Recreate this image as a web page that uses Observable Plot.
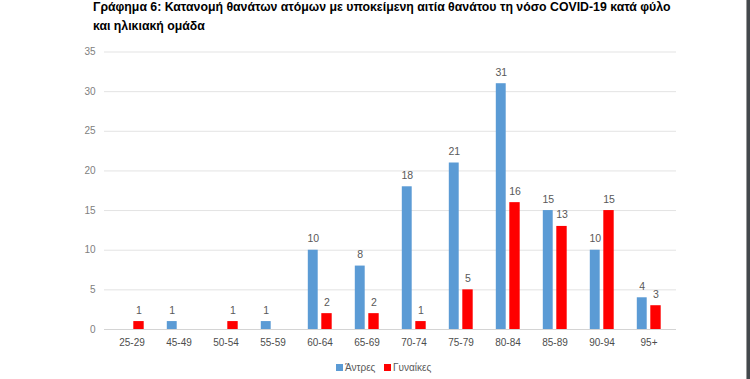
<!DOCTYPE html>
<html>
<head>
<meta charset="utf-8">
<script src="https://cdn.jsdelivr.net/npm/d3@7"></script>
<script src="https://cdn.jsdelivr.net/npm/@observablehq/plot@0.6"></script>
<style>
  html, body { margin: 0; padding: 0; background: #fff; }
  #wrap { position: relative; width: 750px; height: 379px; overflow: hidden; font-family: "Liberation Sans", Arial, sans-serif; }
  #title { height: 40px; position: relative; }
  #title div { position: absolute; left: 93px; top: -1.8px; width: 640px; font-weight: bold; font-size: 12.3px; line-height: 19px; color: #000; white-space: nowrap; }
  #chart svg { display: block; }
  #legend { position: relative; height: 24px; }
  .lg { position: absolute; top: 0; height: 24px; display: flex; align-items: center; font-size: 10px; color: #595959; }
  .sw { width: 7px; height: 7px; margin-right: 2px; }
  #edge { position: absolute; right: 0; top: 0; width: 4px; height: 379px; background: #43484c; border-left: 1px solid #9a9a9a; box-sizing: border-box; }
</style>
</head>
<body>
<div id="wrap">
  <div id="title"><div>Γράφημα 6: Κατανομή θανάτων ατόμων με υποκείμενη αιτία θανάτου τη νόσο COVID-19 κατά φύλο<br>και ηλικιακή ομάδα</div></div>
  <div id="chart"></div>
  <div id="legend"></div>
  <div id="edge"></div>
</div>
<script>
const ages = ["25-29", "45-49", "50-54", "55-59", "60-64", "65-69", "70-74", "75-79", "80-84", "85-89", "90-94", "95+"];
const men = [0, 1, 0, 1, 10, 8, 18, 21, 31, 15, 10, 4];
const women = [1, 0, 1, 0, 2, 2, 1, 5, 16, 13, 15, 3];
const seriesNames = ["Άντρες", "Γυναίκες"];
const seriesColors = ["#5B9BD5", "#FF0000"];
const yTicks = [0, 5, 10, 15, 20, 25, 30, 35];

const menData = ages.map((a, i) => ({age: a, value: men[i]})).filter(d => d.value > 0);
const womenData = ages.map((a, i) => ({age: a, value: women[i]})).filter(d => d.value > 0);

const labelColor = "#595959";

const chart = Plot.plot({
  width: 750,
  height: 315,
  marginLeft: 104,
  marginRight: 74,
  marginTop: 11.5,
  marginBottom: 26,
  style: { fontFamily: "Liberation Sans, Arial, sans-serif", fontSize: "10px", color: labelColor, background: "#fff" },
  x: { type: "band", domain: ages, padding: 0, label: null, tickSize: 0, tickPadding: 9 },
  y: { domain: [0, 35], ticks: yTicks, label: null, tickSize: 0, tickPadding: 9, tickFormat: d => String(d) },
  marks: [
    Plot.ruleY(yTicks.filter(t => t > 0), { stroke: "#e3e3e3", strokeWidth: 1 }),
    Plot.ruleY([0], { stroke: "#d4d4d4", strokeWidth: 1 }),
    Plot.barY(menData, { x: "age", y: "value", fill: seriesColors[0], insetLeft: 11.8, insetRight: 25.3 }),
    Plot.barY(womenData, { x: "age", y: "value", fill: seriesColors[1], insetLeft: 25.3, insetRight: 11.3 }),
    Plot.text(menData, { x: "age", y: "value", text: d => String(d.value), dx: -6.75, dy: -8, lineAnchor: "bottom", fill: labelColor, fontSize: 10.5 }),
    Plot.text(womenData, { x: "age", y: "value", text: d => String(d.value), dx: 7, dy: -8, lineAnchor: "bottom", fill: labelColor, fontSize: 10.5 }),
    Plot.axisX({ tickSize: 0, tickPadding: 9, fill: "#4d4d4d", fontSize: 10, label: null }),
    Plot.axisY({ ticks: yTicks, tickSize: 0, tickPadding: 9, fill: "#808080", fontSize: 10, label: null })
  ]
});
document.getElementById("chart").appendChild(chart);

const legend = document.getElementById("legend");
const legendLefts = [336, 384];
seriesNames.forEach((name, i) => {
  const item = document.createElement("div");
  item.className = "lg";
  item.style.left = legendLefts[i] + "px";
  const sw = document.createElement("span");
  sw.className = "sw";
  sw.style.background = seriesColors[i];
  item.appendChild(sw);
  item.appendChild(document.createTextNode(name));
  legend.appendChild(item);
});
</script>
</body>
</html>
